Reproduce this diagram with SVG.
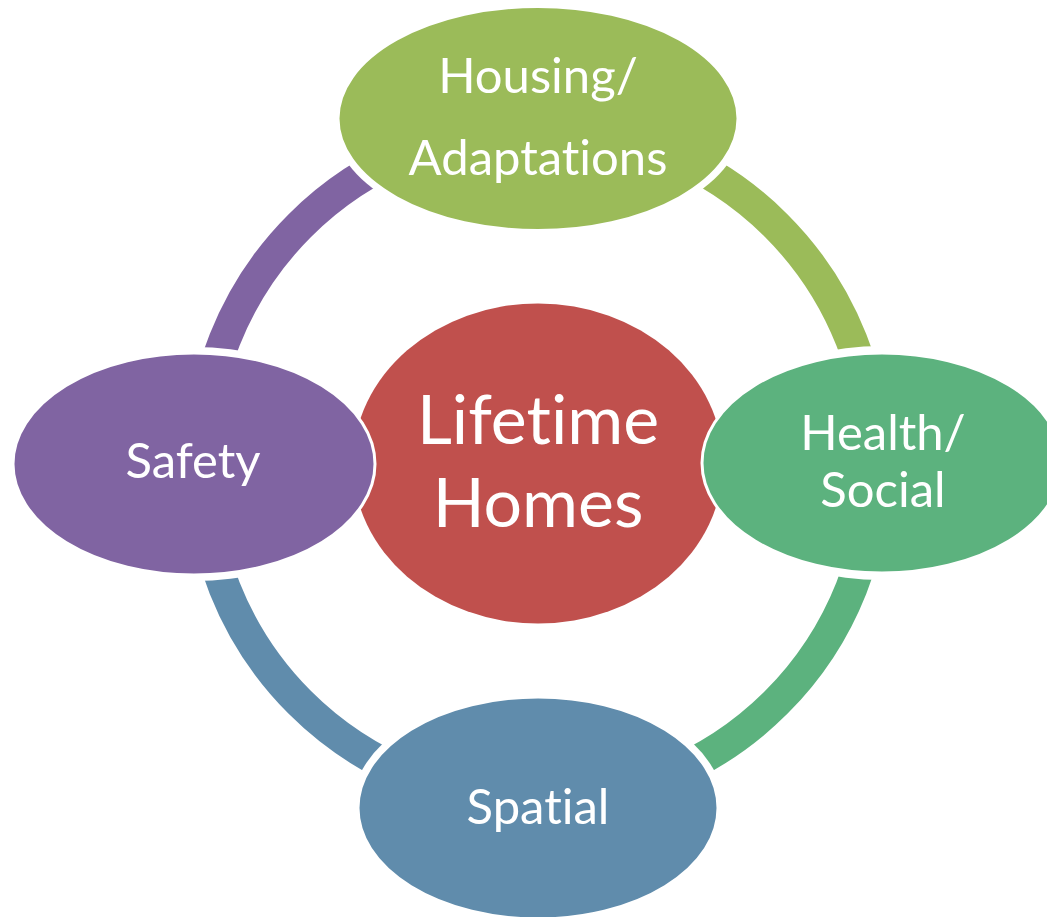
<svg xmlns="http://www.w3.org/2000/svg" width="1047" height="917" viewBox="0 0 1047 917">
  <style>
    .ring { fill: none; stroke-width: 32; }
    .halo { fill: #ffffff; }
    .node { stroke: #ffffff; stroke-width: 3; }
    .label { fill: #ffffff; font-family: Lato, "Liberation Sans", sans-serif; text-anchor: middle; font-variant-ligatures: none; }
  </style>
  <rect width="1047" height="917" fill="#ffffff"/>

  <!-- circular connector ring, one quarter per colour -->
  <g id="connectors">
    <path class="ring" stroke="#8064A2" d="M 201 464 A 337 337 0 0 1 538 127"/>
    <path class="ring" stroke="#9BBB59" d="M 538 127 A 337 337 0 0 1 875 464"/>
    <path class="ring" stroke="#5CB27E" d="M 875 464 A 337 337 0 0 1 538 801"/>
    <path class="ring" stroke="#608CAC" d="M 538 801 A 337 337 0 0 1 201 464"/>
  </g>

  <!-- white clearances that cut the ring short of each outer node -->
  <g id="clearances">
    <ellipse class="halo" cx="538" cy="118" rx="206" ry="118"/>
    <ellipse class="halo" cx="882" cy="463" rx="186" ry="117"/>
    <ellipse class="halo" cx="538" cy="808" rx="186" ry="117"/>
    <ellipse class="halo" cx="194" cy="464" rx="187" ry="117"/>
  </g>

  <g id="center">
    <ellipse cx="538" cy="463.5" rx="185" ry="160" fill="#C0504D"/>
    <text class="label" x="538" y="444" font-size="68">Lifetime</text>
    <text class="label" x="538" y="527" font-size="68">Homes</text>
  </g>

  <g id="housing">
    <ellipse class="node" cx="538" cy="118.5" rx="200" ry="112" fill="#9BBB59"/>
    <text class="label" x="538" y="93" font-size="49">Housing/</text>
    <text class="label" x="538" y="175" font-size="49">Adaptations</text>
  </g>

  <g id="health">
    <ellipse class="node" cx="882" cy="463" rx="180" ry="110" fill="#5CB27E"/>
    <text class="label" x="883" y="450" font-size="49">Health/</text>
    <text class="label" x="883" y="507" font-size="49">Social</text>
  </g>

  <g id="spatial">
    <ellipse class="node" cx="538" cy="808" rx="180" ry="111" fill="#608CAC"/>
    <text class="label" x="538" y="824" font-size="49">Spatial</text>
  </g>

  <g id="safety">
    <ellipse class="node" cx="194" cy="464" rx="181" ry="111" fill="#8064A2"/>
    <text class="label" x="193" y="478" font-size="49">Safety</text>
  </g>
</svg>
